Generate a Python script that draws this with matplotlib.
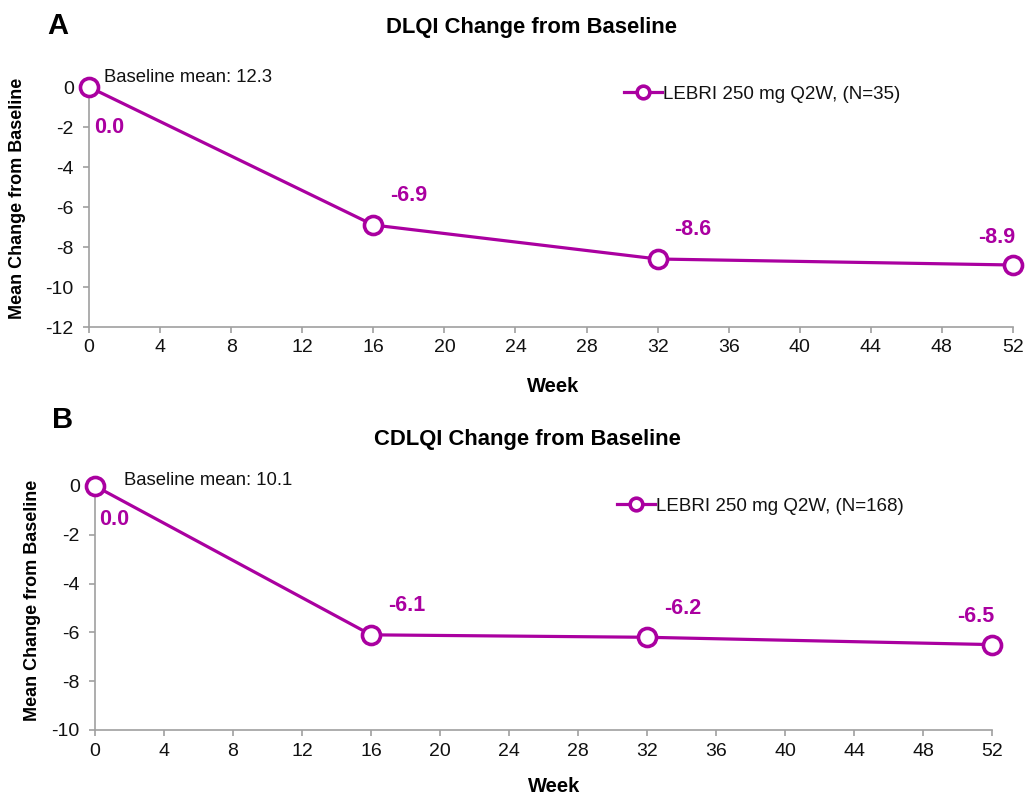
import matplotlib
matplotlib.use('Agg')
import matplotlib.pyplot as plt

plt.rcParams['font.family'] = ['Liberation Sans', 'DejaVu Sans']
plt.rcParams['axes.unicode_minus'] = False

weeks = [0, 16, 32, 52]
dlqi_change = [0.0, -6.9, -8.6, -8.9]
cdlqi_change = [0.0, -6.1, -6.2, -6.5]
dlqi_baseline = 12.3
cdlqi_baseline = 10.1
dlqi_n = 35
cdlqi_n = 168
xticks = list(range(0, 53, 4))

purple = '#AA00A0'
grey = '#A0A0A0'

fig = plt.figure(figsize=(10.27, 7.95), dpi=100)
W, H = 1027.0, 795.0


def fx(px):
    return px / W


def fy(py):
    return 1 - py / H


def panel(rect, vals, ylo, base, n, title, letter, title_xy, letter_xy, ylab_xy,
          week_xy, leg_xy, base_off, zero_off):
    ax = fig.add_axes(rect)
    ax.plot(weeks, vals, color=purple, lw=2.3, marker='o', ms=13,
            mfc='white', mec=purple, mew=2.6, clip_on=False, zorder=5,
            label='LEBRI 250 mg Q2W, (N=%d)' % n)
    ax.set_xlim(0, 52)
    ax.set_ylim(ylo, 0)
    ax.set_xticks(xticks)
    ax.set_yticks(range(ylo, 1, 2))
    for s in ['top', 'right']:
        ax.spines[s].set_visible(False)
    for s in ['left', 'bottom']:
        ax.spines[s].set_color(grey)
        ax.spines[s].set_linewidth(1.2)
    ax.tick_params(axis='both', colors=grey, labelcolor='#111111',
                   labelsize=14, length=4, width=1.2, direction='out')
    ax.tick_params(axis='x', pad=5)
    ax.tick_params(axis='y', pad=7)

    # value labels
    for i, (x, v) in enumerate(zip(weeks, vals)):
        if i == 0:
            ax.annotate('%.1f' % v, (x, v), xytext=zero_off, textcoords='offset points',
                        ha='left', va='center', color=purple, fontsize=15.5,
                        fontweight='bold')
        elif x == 52:
            ax.annotate('%.1f' % v, (x, v), xytext=(-12, 20), textcoords='offset points',
                        ha='center', va='center', color=purple, fontsize=15.5,
                        fontweight='bold')
        else:
            ax.annotate('%.1f' % v, (x, v), xytext=(12, 21), textcoords='offset points',
                        ha='left', va='center', color=purple, fontsize=15.5,
                        fontweight='bold')
    ax.annotate('Baseline mean: %.1f' % base, (0, 0), xytext=base_off,
                textcoords='offset points', ha='left', va='center',
                fontsize=13.3, color='#111111')

    leg = ax.legend(loc='center left', bbox_to_anchor=(fx(leg_xy[0]), fy(leg_xy[1])),
                    bbox_transform=fig.transFigure, frameon=False, fontsize=13.5,
                    handlelength=2.0, handletextpad=0.1, borderpad=0,
                    borderaxespad=0, markerscale=0.7)
    for t in leg.get_texts():
        t.set_color('#111111')

    fig.text(fx(title_xy[0]), fy(title_xy[1]), title, ha='center', va='center',
             fontsize=15.8, fontweight='bold')
    fig.text(fx(letter_xy[0]), fy(letter_xy[1]), letter, ha='center', va='center',
             fontsize=21, fontweight='bold')
    fig.text(fx(ylab_xy[0]), fy(ylab_xy[1]), 'Mean Change from Baseline', ha='center',
             va='center', rotation=90, fontsize=13, fontweight='bold')
    fig.text(fx(week_xy[0]), fy(week_xy[1]), 'Week', ha='center', va='center',
             fontsize=14.5, fontweight='bold')
    return ax


panel([fx(89), fy(327), (1013 - 89) / W, (327 - 87) / H], dlqi_change, -12,
      dlqi_baseline, dlqi_n, 'DLQI Change from Baseline', 'A',
      (532, 28), (58, 26), (18, 198), (553, 387), (624, 94), (11, 7), (4, -29))

panel([fx(95), fy(730), (992 - 95) / W, (730 - 486) / H], cdlqi_change, -10,
      cdlqi_baseline, cdlqi_n, 'CDLQI Change from Baseline', 'B',
      (527, 440), (63, 420), (33, 600), (554, 786), (617, 506), (21, 4), (3, -24))

fig.savefig('out.png', dpi=100)
